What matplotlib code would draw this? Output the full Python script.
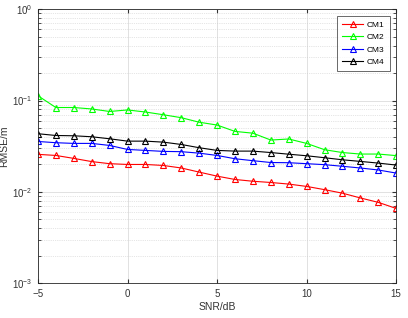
import matplotlib
matplotlib.use('Agg')
import matplotlib.pyplot as plt

plt.rcParams['font.family'] = ['Liberation Sans', 'DejaVu Sans']

snr = list(range(-5, 16))
cm1 = [0.0258, 0.0251, 0.0233, 0.0215, 0.0204, 0.0200, 0.0200, 0.0195, 0.0183, 0.0165, 0.0149,
       0.0137, 0.0131, 0.0127, 0.0122, 0.0115, 0.0106, 0.0097, 0.0086, 0.0077, 0.0066]
cm2 = [0.113, 0.084, 0.084, 0.081, 0.076, 0.079, 0.075, 0.070, 0.065, 0.058, 0.054,
       0.046, 0.044, 0.037, 0.038, 0.034, 0.029, 0.027, 0.026, 0.026, 0.025]
cm3 = [0.0357, 0.0346, 0.0340, 0.0340, 0.0323, 0.0292, 0.0285, 0.0278, 0.0276, 0.0266, 0.0251,
       0.0231, 0.0220, 0.0210, 0.0209, 0.0204, 0.0199, 0.0191, 0.0183, 0.0174, 0.0161]
cm4 = [0.0434, 0.0415, 0.0412, 0.0402, 0.0382, 0.0360, 0.0360, 0.0351, 0.0331, 0.0305, 0.0285,
       0.0280, 0.0280, 0.0270, 0.0259, 0.0249, 0.0237, 0.0225, 0.0216, 0.0207, 0.0197]

labels = ['CM1', 'CM2', 'CM3', 'CM4']
colors = ['#ff0000', '#00ff00', '#0000ff', '#000000']

fig = plt.figure(figsize=(4.08, 3.18), dpi=100)
ax = fig.add_axes([0.093, 0.109, 0.878, 0.862])

for y, lab, c in zip([cm1, cm2, cm3, cm4], labels, colors):
    ax.semilogy(snr, y, color=c, lw=0.8, marker='^', ms=5, mfc='none', mew=0.8, label=lab)

ax.set_xlim(-5, 15)
ax.set_ylim(1e-3, 1)
ax.set_xticks([-5, 0, 5, 10, 15])
ax.grid(True, which='major', color='#dcdcdc', lw=0.6)
ax.grid(True, which='minor', axis='y', color='#cccccc', lw=0.5, ls=':')
ax.tick_params(which='both', direction='in', top=True, right=True, labelsize=7, colors='#333333')
ax.tick_params(which='major', length=3, pad=4)
ax.tick_params(which='minor', length=2)
for s in ax.spines.values():
    s.set_color('#262626')
    s.set_linewidth(0.6)

ax.set_xlabel('SNR/dB', fontsize=7.5, color='#333333', labelpad=2)
ax.set_ylabel('RMSE/m', fontsize=7.5, color='#333333', labelpad=2)

leg = ax.legend(loc='upper right', fontsize=6, frameon=True, fancybox=False,
                edgecolor='#262626', borderpad=0.6, labelspacing=0.55,
                handlelength=2.6, handletextpad=0.4, borderaxespad=0.8)
leg.get_frame().set_linewidth(0.6)

plt.savefig('out.png', dpi=100)
